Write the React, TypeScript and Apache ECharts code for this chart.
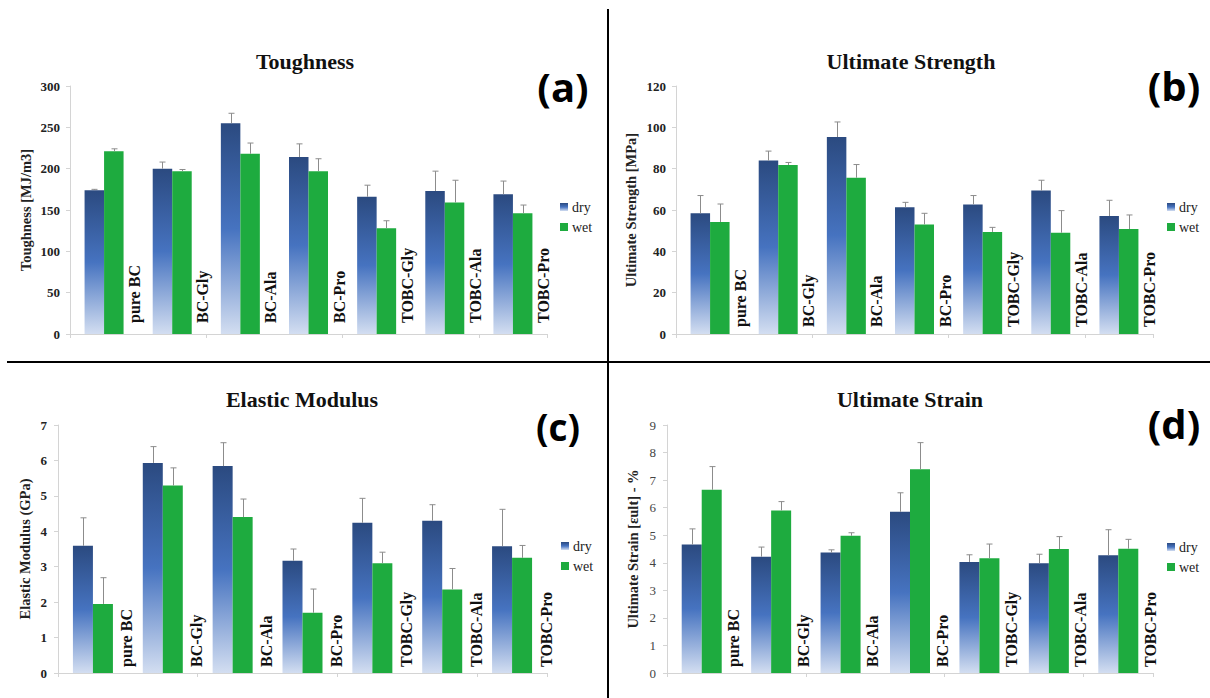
import React, { useEffect, useRef } from "react";
import * as echarts from "echarts";

const categories = ["pure BC", "BC-Gly", "BC-Ala", "BC-Pro", "TOBC-Gly", "TOBC-Ala", "TOBC-Pro"];
const seriesNames = ["dry", "wet"];

const toughnessDry = [174, 200, 255, 214, 166, 173, 169];
const toughnessDryErr = [1, 8, 12, 16, 14, 24, 16];
const toughnessWet = [221, 197, 218, 197, 128, 159, 146];
const toughnessWetErr = [3, 2, 13, 15, 9, 27, 10];

const strengthDry = [58.4, 83.9, 95.3, 61.3, 62.7, 69.4, 57.1];
const strengthDryErr = [8.6, 4.6, 7.3, 2.4, 4.3, 5.0, 7.6];
const strengthWet = [54.2, 81.8, 75.6, 53.0, 49.4, 49.0, 50.8];
const strengthWetErr = [8.7, 1.2, 6.4, 5.4, 2.2, 10.7, 6.8];

const modulusDry = [3.59, 5.93, 5.84, 3.17, 4.24, 4.3, 3.58];
const modulusDryErr = [0.79, 0.46, 0.66, 0.33, 0.69, 0.45, 1.04];
const modulusWet = [1.95, 5.29, 4.4, 1.7, 3.1, 2.36, 3.25];
const modulusWetErr = [0.74, 0.5, 0.51, 0.67, 0.31, 0.59, 0.35];

const strainDry = [4.66, 4.22, 4.37, 5.85, 4.03, 3.98, 4.27];
const strainDryErr = [0.57, 0.35, 0.1, 0.69, 0.26, 0.33, 0.93];
const strainWet = [6.65, 5.9, 4.98, 7.39, 4.16, 4.5, 4.51];
const strainWetErr = [0.84, 0.32, 0.11, 0.97, 0.52, 0.45, 0.34];

const titles = ["Toughness", "Ultimate Strength", "Elastic Modulus", "Ultimate Strain"];
const panelLetters = ["(a)", "(b)", "(c)", "(d)"];
const yNames = ["Toughness [MJ/m3]", "Ultimate Strength [MPa]", "Elastic Modulus (GPa)", "Ultimate Strain [εult] - %"];
const yMax = [300, 120, 7, 9];
const yInterval = [50, 20, 1, 1];

const SERIF = "'Liberation Serif', 'DejaVu Serif', serif";
const SANS = "'Open Sans', 'Noto Sans', sans-serif";

const panelData = [
  { dry: toughnessDry, dryErr: toughnessDryErr, wet: toughnessWet, wetErr: toughnessWetErr },
  { dry: strengthDry, dryErr: strengthDryErr, wet: strengthWet, wetErr: strengthWetErr },
  { dry: modulusDry, dryErr: modulusDryErr, wet: modulusWet, wetErr: modulusWetErr },
  { dry: strainDry, dryErr: strainDryErr, wet: strainWet, wetErr: strainWetErr },
];

const layouts = [
  { left: 70, top: 86, width: 477, height: 248, bw: 19.5, nameGap: 37, labelMargin: 10, catOffset: [11, 3], titleX: 305, titleY: 61, letterX: 563, letterY: 86, letterSize: 40, legendX: 560, legendY: 203, tickBold: true },
  { left: 676, top: 86, width: 477, height: 248, bw: 19.5, nameGap: 38, labelMargin: 10, catOffset: [7, 3], titleX: 911, titleY: 61, letterX: 1174, letterY: 85, letterSize: 40, legendX: 1167, legendY: 203, tickBold: true },
  { left: 58, top: 425, width: 489, height: 248, bw: 20, nameGap: 26, labelMargin: 11, catOffset: [6, 6], titleX: 302, titleY: 399, letterX: 558, letterY: 426, letterSize: 37, legendX: 561, legendY: 542, tickBold: true },
  { left: 667, top: 425, width: 486, height: 248, bw: 20, nameGap: 27, labelMargin: 11, catOffset: [6, 4], titleX: 910, titleY: 399, letterX: 1174, letterY: 423, letterSize: 40, legendX: 1167, legendY: 543, tickBold: false },
];

const dryGradient = () =>
  new echarts.graphic.LinearGradient(0, 0, 0, 1, [
    { offset: 0, color: "#2b4a80" },
    { offset: 0.5, color: "#4673c0" },
    { offset: 1, color: "#d3def1" },
  ]);
const wetColor = "#1eab3f";

export default function App() {
  const ref = useRef<HTMLDivElement>(null);
  useEffect(() => {
    if (!ref.current) return;
    const chart = echarts.init(ref.current, null, { renderer: "svg" });

    const grid: any[] = [];
    const xAxis: any[] = [];
    const yAxis: any[] = [];
    const series: any[] = [];
    const legend: any[] = [];
    const graphic: any[] = [];

    const legendStep = 20;

    layouts.forEach((L, i) => {
      const d = panelData[i];
      grid.push({ left: L.left, top: L.top, width: L.width, height: L.height, containLabel: false });
      xAxis.push({
        type: "category",
        gridIndex: i,
        data: categories,
        axisLine: { show: true, lineStyle: { color: "#d4d4d4", width: 1 } },
        axisTick: { show: true, length: 4, lineStyle: { color: "#d4d4d4" } },
        axisLabel: { show: false },
        splitLine: { show: false },
      });
      yAxis.push({
        type: "value",
        gridIndex: i,
        min: 0,
        max: yMax[i],
        interval: yInterval[i],
        name: yNames[i],
        nameLocation: "middle",
        nameGap: L.nameGap,
        nameTextStyle: { fontFamily: SERIF, fontWeight: "bold", fontSize: 14.5, color: "#222" },
        axisLine: { show: true, lineStyle: { color: "#d4d4d4", width: 1 } },
        axisTick: { show: true, length: 4, lineStyle: { color: "#d4d4d4" } },
        axisLabel: {
          margin: L.labelMargin,
          fontFamily: SERIF,
          fontWeight: L.tickBold ? "bold" : "normal",
          fontSize: 13,
          color: L.tickBold ? "#222" : "#444",
        },
        splitLine: { show: false },
      });
      series.push({
        type: "bar",
        name: "dry",
        xAxisIndex: i,
        yAxisIndex: i,
        data: d.dry,
        barWidth: L.bw,
        barGap: "0%",
        itemStyle: { color: dryGradient() },
        z: 2,
      });
      series.push({
        type: "bar",
        name: "wet",
        xAxisIndex: i,
        yAxisIndex: i,
        data: d.wet,
        barWidth: L.bw,
        barGap: "0%",
        itemStyle: { color: wetColor },
        z: 2,
        label: {
          show: true,
          position: ["100%", "100%"],
          rotate: 90,
          align: "left",
          verticalAlign: "top",
          offset: L.catOffset,
          formatter: (p: any) => categories[p.dataIndex],
          fontFamily: SERIF,
          fontWeight: "bold",
          fontSize: 16,
          color: "#111",
        },
      });
      const errData: any[] = [];
      categories.forEach((_, j) => errData.push([j, d.dry[j], d.dryErr[j], 0]));
      categories.forEach((_, j) => errData.push([j, d.wet[j], d.wetErr[j], 1]));
      const bw = L.bw;
      series.push({
        type: "custom",
        name: "err",
        xAxisIndex: i,
        yAxisIndex: i,
        encode: { x: 0, y: 1 },
        data: errData,
        z: 5,
        renderItem: (params: any, api: any) => {
          const idx = api.value(0);
          const v = api.value(1);
          const e = api.value(2);
          const side = api.value(3);
          const base = api.coord([idx, v]);
          const top = api.coord([idx, v + e]);
          const x = Math.round(base[0] + (side === 0 ? -bw / 2 : bw / 2)) + 0.5;
          return {
            type: "group",
            children: [
              { type: "line", shape: { x1: x, y1: base[1], x2: x, y2: top[1] }, style: { stroke: "#8c8c8c", lineWidth: 1 } },
              { type: "line", shape: { x1: x - 3, y1: top[1], x2: x + 3, y2: top[1] }, style: { stroke: "#8c8c8c", lineWidth: 1 } },
            ],
          };
        },
      });
      // legend icons (series-linked) + serif text drawn beside them
      legend.push({
        data: seriesNames,
        orient: "vertical",
        left: L.legendX,
        top: L.legendY,
        padding: 0,
        itemWidth: 8,
        itemHeight: 8,
        itemGap: legendStep - 8,
        icon: "rect",
        selectedMode: false,
        formatter: () => "",
        textStyle: { fontSize: 1, lineHeight: 8 },
      });
      seriesNames.forEach((n, k) => {
        graphic.push({
          type: "text",
          x: L.legendX + 12,
          y: L.legendY + 4 + k * legendStep,
          style: { text: n, font: `14px ${SERIF}`, fill: "#222", textAlign: "left", textVerticalAlign: "middle" },
        });
      });
      graphic.push({
        type: "text",
        x: L.titleX,
        y: L.titleY,
        style: { text: titles[i], font: `bold 22px ${SERIF}`, fill: "#111", textAlign: "center", textVerticalAlign: "middle" },
      });
      graphic.push({
        type: "text",
        x: L.letterX,
        y: L.letterY,
        style: { text: panelLetters[i], font: `bold ${L.letterSize}px ${SANS}`, fill: "#000", textAlign: "center", textVerticalAlign: "middle" },
      });
    });

    graphic.push({ type: "line", shape: { x1: 608, y1: 9, x2: 608, y2: 698 }, style: { stroke: "#000", lineWidth: 2 } });
    graphic.push({ type: "line", shape: { x1: 7, y1: 362, x2: 1210, y2: 362 }, style: { stroke: "#000", lineWidth: 2 } });

    chart.setOption({
      animation: false,
      backgroundColor: "#fff",
      textStyle: { fontFamily: SERIF },
      grid,
      xAxis,
      yAxis,
      series,
      legend,
      graphic,
    });
    return () => chart.dispose();
  }, []);
  return <div ref={ref} style={{ position: "absolute", left: 0, top: 0, width: 1210, height: 698 }} />;
}
